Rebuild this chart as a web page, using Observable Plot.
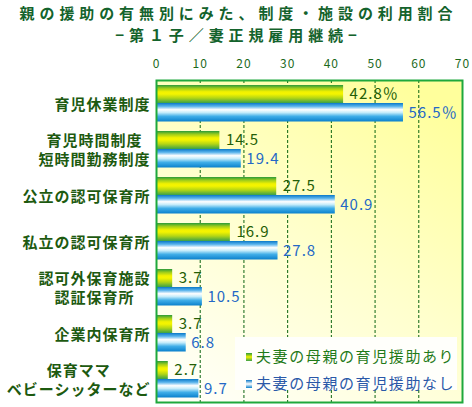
<!DOCTYPE html>
<html>
<head>
<meta charset="utf-8">
<script src="https://cdn.jsdelivr.net/npm/d3@7"></script>
<script src="https://cdn.jsdelivr.net/npm/@observablehq/plot@0.6"></script>
<style>
  body { margin: 0; background: #ffffff; font-family: "Noto Sans CJK JP", sans-serif; }
  #wrap { position: relative; width: 472px; height: 407px; overflow: hidden; }
  #title {
    height: 42px; box-sizing: border-box; padding-top: 2px; padding-left: 5px;
    text-align: center; color: #14632c; font-size: 15px; font-weight: bold;
    line-height: 22px; letter-spacing: 4.9px; white-space: nowrap;
  }
  #title div { height: 20px; }
  #legend {
    position: absolute; left: 235px; top: 337px; width: 222px; height: 53px;
    background: #fffffb; box-sizing: border-box; padding: 5px 0 0 11px;
    font-size: 15px; letter-spacing: 1.6px; line-height: 27px; white-space: nowrap;
  }
  #legend .sw { display: inline-block; width: 6px; height: 8px; margin-right: 4px; vertical-align: 1px; }
</style>
</head>
<body>
<div id="wrap">
  <div id="title">親の援助の有無別にみた、制度・施設の利用割合<br>−第１子／妻正規雇用継続−</div>
  <div id="chart"></div>
  <div id="legend"></div>
</div>
<script>
// Facilities / leave systems used, by whether the couple's mothers help with childcare
const categories = [
  "育児休業制度",
  "育児時間制度\n短時間勤務制度",
  "公立の認可保育所",
  "私立の認可保育所",
  "認可外保育施設\n認証保育所",
  "企業内保育所",
  "保育ママ\nベビーシッターなど"
];
const seriesNames = ["夫妻の母親の育児援助あり", "夫妻の母親の育児援助なし"];
const withHelp = [42.8, 14.5, 27.5, 16.9, 3.7, 3.7, 2.7];
const withoutHelp = [56.5, 19.4, 40.9, 27.8, 10.5, 6.8, 9.7];
const xTicks = [0, 10, 20, 30, 40, 50, 60, 70];
const gridTicks = [10, 20, 30, 40, 50, 60];

const greenText = "#245e06";
const blueText = "#2468c6";

const rowsWith = categories.map((c, i) => ({category: c, value: withHelp[i], series: seriesNames[0], first: i === 0}));
const rowsWithout = categories.map((c, i) => ({category: c, value: withoutHelp[i], series: seriesNames[1], first: i === 0}));
const labelOf = d => d.first ? `${d.value}％` : `${d.value}`;

const chart = Plot.plot({
  width: 472,
  height: 365,
  marginTop: 38,
  marginBottom: 5,
  marginLeft: 156,
  marginRight: 10,
  style: {fontFamily: "Noto Sans CJK JP, sans-serif", background: "transparent", overflow: "visible"},
  x: {domain: [0, 70], axis: null},
  y: {domain: categories, padding: 0, axis: null},
  marks: [
    Plot.frame({fill: "url(#plotBg)"}),
    Plot.gridX({ticks: gridTicks, stroke: "#0b6410", strokeOpacity: 1, strokeWidth: 1, strokeDasharray: "3,2"}),
    Plot.barX(rowsWith, {x: "value", y: "category", fill: "url(#barGreen)", insetTop: 5, insetBottom: 23}),
    Plot.barX(rowsWithout, {x: "value", y: "category", fill: "url(#barBlue)", insetTop: 23, insetBottom: 4.5}),
    Plot.text(rowsWith, {x: "value", y: "category", text: labelOf, dx: 6, dy: -9.5, textAnchor: "start", fill: greenText, fontSize: 15, className: "val"}),
    Plot.text(rowsWithout, {x: "value", y: "category", text: labelOf, dx: 5, dy: 10, textAnchor: "start", fill: blueText, fontSize: 15, className: "val"}),
    Plot.frame({stroke: "#1fa83c", strokeWidth: 2}),
    Plot.axisX({anchor: "top", ticks: xTicks, tickSize: 0, tickPadding: 13, fontSize: 12, fill: "#1c6a1c", label: null}),
    Plot.axisY({anchor: "left", tickSize: 0, tickPadding: 6, fontSize: 15, lineHeight: 1.27, fill: "#1d5a10", fontWeight: "bold", label: null})
  ]
});
document.getElementById("chart").appendChild(chart);

// gradients for the plot background and the bars
const svg = d3.select(chart.tagName.toLowerCase() === "svg" ? chart : chart.querySelector("svg"));
const defs = svg.insert("defs", ":first-child");

const bg = defs.append("linearGradient").attr("id", "plotBg")
  .attr("x1", 0.2).attr("y1", 1).attr("x2", 0.8).attr("y2", 0);
bg.append("stop").attr("offset", 0).attr("stop-color", "#fffff6");
bg.append("stop").attr("offset", 0.5).attr("stop-color", "#ffffcc");
bg.append("stop").attr("offset", 1).attr("stop-color", "#ffff9c");

const green = defs.append("linearGradient").attr("id", "barGreen")
  .attr("x1", 0).attr("y1", 0).attr("x2", 0).attr("y2", 1);
[[0, "#2a9a3a"], [0.18, "#9ccc1c"], [0.38, "#f2f200"], [0.5, "#f4f400"], [0.72, "#b4d614"], [1, "#3aa048"]]
  .forEach(([o, c]) => green.append("stop").attr("offset", o).attr("stop-color", c));

const blue = defs.append("linearGradient").attr("id", "barBlue")
  .attr("x1", 0).attr("y1", 0).attr("x2", 0).attr("y2", 1);
[[0, "#0a78c8"], [0.18, "#5ab4ec"], [0.36, "#ffffff"], [0.52, "#c4ecfa"], [0.72, "#40aee8"], [1, "#0a80cc"]]
  .forEach(([o, c]) => blue.append("stop").attr("offset", o).attr("stop-color", c));

// category labels: right-aligned block, each line centred within it
svg.selectAll("g[aria-label='y-axis tick label'] text").each(function () {
  const t = d3.select(this);
  t.style("letter-spacing", "1px");
  const w = this.getBBox().width;
  t.attr("text-anchor", "middle");
  const x = +(t.attr("x") || 0);
  t.attr("x", x - w / 2);
  t.selectAll("tspan[x]").attr("x", x - w / 2);
});
svg.selectAll("g[aria-label='x-axis tick label'] text").style("letter-spacing", "1px");
svg.selectAll(".val text").style("letter-spacing", "1px");

// legend
const legend = d3.select("#legend");
[[seriesNames[0], "linear-gradient(#2a9a3a, #f2f200, #3aa048)", "#1f7a18"],
 [seriesNames[1], "linear-gradient(#0a78c8, #ffffff, #0a80cc)", "#2a58a8"]]
  .forEach(([name, grad, color]) => {
    const row = legend.append("div").style("color", color);
    row.append("span").attr("class", "sw").style("background", grad);
    row.append("span").text(name);
  });
</script>
</body>
</html>
